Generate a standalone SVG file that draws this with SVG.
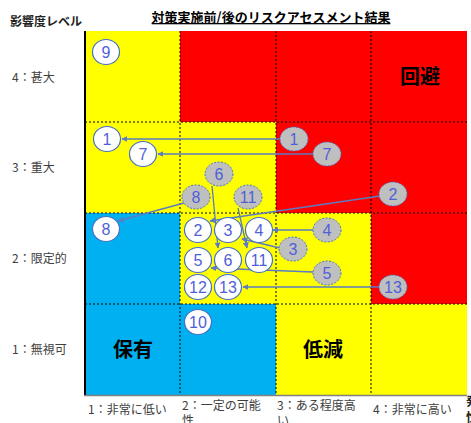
<svg xmlns="http://www.w3.org/2000/svg" width="471" height="423" viewBox="0 0 471 423">
<defs>
<style>
.jp{font-family:"Noto Sans CJK JP","Noto Sans",sans-serif}
.ax{font-family:"Noto Sans CJK JP",sans-serif;font-size:12px;fill:#404040}
.big{font-family:"Noto Sans CJK JP",sans-serif;font-size:20px;font-weight:bold;fill:#000}
.grid{stroke:#000;stroke-width:1;stroke-dasharray:2,2;fill:none}
.w ellipse{fill:#fff;stroke:#4472C4;stroke-width:1.2}
.g ellipse{fill:#BFBFBF;stroke:#4472C4;stroke-width:1;stroke-dasharray:2,1.5}
.n text{font-family:"Liberation Sans",Arial,sans-serif;font-size:16px;fill:#4F5FD8;text-anchor:middle}
.con line{stroke:#5A7CC0;stroke-width:1.3;fill:none;marker-end:url(#ah)}
</style>
<marker id="ah" viewBox="0 0 10 10" refX="9" refY="5" markerWidth="6" markerHeight="6" orient="auto" markerUnits="userSpaceOnUse">
<path d="M0,0 L10,5 L0,10 z" fill="#5A7CC0"/>
</marker>
</defs>
<rect width="471" height="423" fill="#fff"/>
<g id="cells">
<rect x="85" y="31" width="95" height="91" fill="#FFFF00"/>
<rect x="180" y="31" width="287" height="91" fill="#FF0000"/>
<rect x="85" y="122" width="191" height="91" fill="#FFFF00"/>
<rect x="276" y="122" width="191" height="91" fill="#FF0000"/>
<rect x="85" y="213" width="95" height="91" fill="#00B0F0"/>
<rect x="180" y="213" width="191" height="91" fill="#FFFF00"/>
<rect x="371" y="213" width="96" height="91" fill="#FF0000"/>
<rect x="85" y="304" width="191" height="91" fill="#00B0F0"/>
<rect x="276" y="304" width="191" height="91" fill="#FFFF00"/>
</g>
<g id="gridlines">
<line class="grid" x1="180" y1="31" x2="180" y2="395"/>
<line class="grid" x1="276" y1="31" x2="276" y2="395"/>
<line class="grid" x1="371" y1="31" x2="371" y2="395"/>
<line class="grid" x1="85" y1="122" x2="467" y2="122"/>
<line class="grid" x1="85" y1="213" x2="467" y2="213"/>
<line class="grid" x1="85" y1="304" x2="467" y2="304"/>
</g>
<g id="axes">
<line x1="85" y1="31" x2="85" y2="396" stroke="#000" stroke-width="2"/>
<line x1="84" y1="395.5" x2="467" y2="395.5" stroke="#808080" stroke-width="1.5"/>
</g>
<g id="titles">
<text class="jp" x="271" y="22" font-size="13" font-weight="bold" text-anchor="middle" text-decoration="underline" fill="#000">対策実施前/後のリスクアセスメント結果</text>
<text class="jp" x="10" y="26" font-size="12" font-weight="bold" fill="#222">影響度レベル</text>
<text class="ax" x="12" y="82">4：甚大</text>
<text class="ax" x="12" y="172">3：重大</text>
<text class="ax" x="12" y="263">2：限定的</text>
<text class="ax" x="12" y="354">1：無視可</text>
<text class="ax" x="88" y="414">1：非常に低い</text>
<text class="ax" x="182" y="410">2：一定の可能</text>
<text class="ax" x="182" y="425">性</text>
<text class="ax" x="277" y="410">3：ある程度高</text>
<text class="ax" x="277" y="425">い</text>
<text class="ax" x="373" y="414">4：非常に高い</text>
<text class="jp" x="466" y="406" font-size="12" font-weight="bold" fill="#222">発</text>
<text class="jp" x="466" y="422" font-size="12" font-weight="bold" fill="#222">性</text>
<text class="big" x="420" y="84" text-anchor="middle">回避</text>
<text class="big" x="133" y="357" text-anchor="middle">保有</text>
<text class="big" x="323" y="357" text-anchor="middle">低減</text>
</g>
<g id="connectors" class="con">
<line x1="280" y1="139" x2="122" y2="139"/>
<line x1="313" y1="154" x2="158" y2="154"/>
<line x1="184" y1="203" x2="118" y2="221"/>
<line x1="380" y1="196" x2="210" y2="221"/>
<line x1="212" y1="186" x2="218" y2="248"/>
<line x1="238" y1="208" x2="247" y2="248"/>
<line x1="313" y1="230" x2="273" y2="230"/>
<line x1="280" y1="248" x2="242" y2="239"/>
<line x1="313" y1="272" x2="211" y2="268"/>
<line x1="379" y1="287" x2="243" y2="287"/>
</g>
<g id="a9" class="n w"><ellipse cx="106" cy="52" rx="13.5" ry="12.5"/><text x="106" y="58">9</text></g>
<g id="a1" class="n w"><ellipse cx="107" cy="139" rx="13.5" ry="12.5"/><text x="107" y="145">1</text></g>
<g id="a7" class="n w"><ellipse cx="143" cy="154" rx="13.5" ry="12.5"/><text x="143" y="160">7</text></g>
<g id="a8" class="n w"><ellipse cx="106" cy="229" rx="13.5" ry="12.5"/><text x="106" y="235">8</text></g>
<g id="a2" class="n w"><ellipse cx="198" cy="230" rx="13.5" ry="12.5"/><text x="198" y="236">2</text></g>
<g id="a3" class="n w"><ellipse cx="228" cy="230" rx="13.5" ry="12.5"/><text x="228" y="236">3</text></g>
<g id="a4" class="n w"><ellipse cx="259" cy="230" rx="13.5" ry="12.5"/><text x="259" y="236">4</text></g>
<g id="a5" class="n w"><ellipse cx="198" cy="260" rx="13.5" ry="12.5"/><text x="198" y="266">5</text></g>
<g id="a6" class="n w"><ellipse cx="228" cy="260" rx="13.5" ry="12.5"/><text x="228" y="266">6</text></g>
<g id="a11" class="n w"><ellipse cx="259" cy="260" rx="13.5" ry="12.5"/><text x="259" y="266">11</text></g>
<g id="a12" class="n w"><ellipse cx="198" cy="287" rx="13.5" ry="12.5"/><text x="198" y="293">12</text></g>
<g id="a13" class="n w"><ellipse cx="228" cy="287" rx="13.5" ry="12.5"/><text x="228" y="293">13</text></g>
<g id="a10" class="n w"><ellipse cx="198" cy="322" rx="13.5" ry="12.5"/><text x="198" y="328">10</text></g>
<g id="b1" class="n g"><ellipse cx="294" cy="139" rx="14" ry="12"/><text x="294" y="145">1</text></g>
<g id="b7" class="n g"><ellipse cx="327" cy="154" rx="14" ry="12"/><text x="327" y="160">7</text></g>
<g id="b6" class="n g"><ellipse cx="219" cy="174" rx="14" ry="12"/><text x="219" y="180">6</text></g>
<g id="b8" class="n g"><ellipse cx="196" cy="197" rx="14" ry="12"/><text x="196" y="203">8</text></g>
<g id="b11" class="n g"><ellipse cx="248" cy="197" rx="14" ry="12"/><text x="248" y="203">11</text></g>
<g id="b2" class="n g"><ellipse cx="393" cy="194" rx="14" ry="12"/><text x="393" y="200">2</text></g>
<g id="b4" class="n g"><ellipse cx="327" cy="230" rx="14" ry="12"/><text x="327" y="236">4</text></g>
<g id="b3" class="n g"><ellipse cx="293" cy="249" rx="14" ry="12"/><text x="293" y="255">3</text></g>
<g id="b5" class="n g"><ellipse cx="327" cy="273" rx="14" ry="12"/><text x="327" y="279">5</text></g>
<g id="b13" class="n g"><ellipse cx="393" cy="287" rx="14" ry="12"/><text x="393" y="293">13</text></g>
</svg>
